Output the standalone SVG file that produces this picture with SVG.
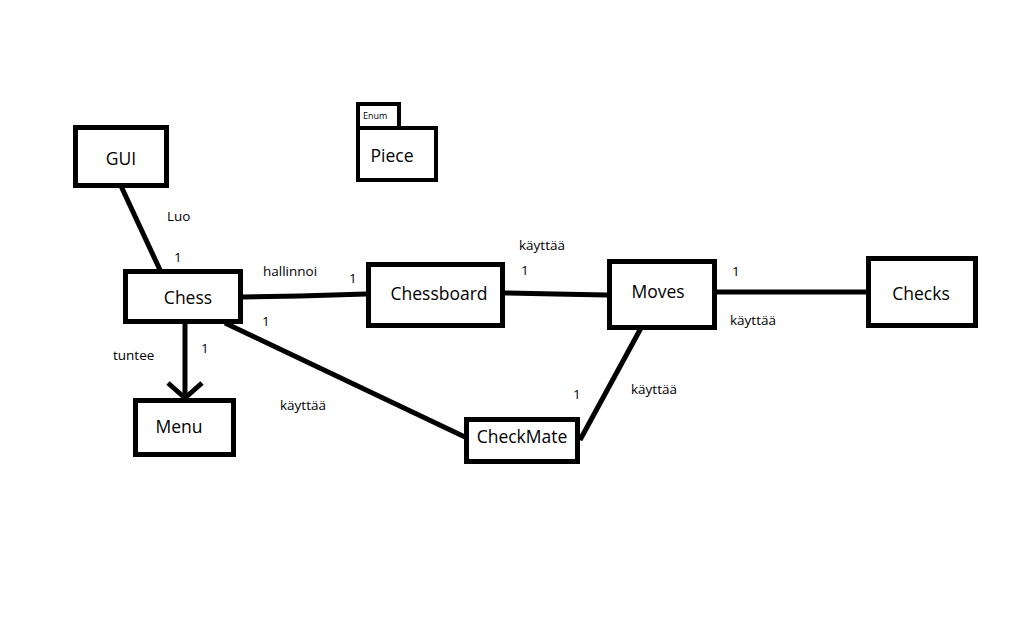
<svg xmlns="http://www.w3.org/2000/svg" width="1031" height="641" viewBox="0 0 1031 641">
<style>
.box{fill:#fff;stroke:#000;stroke-width:5}
.tab{fill:#fff;stroke:#000;stroke-width:4}
.conn{stroke:#000;stroke-width:5;fill:none;stroke-linecap:butt}
.name{font-family:"Open Sans","Noto Sans",sans-serif;font-size:17.5px;fill:#000;text-anchor:middle;dominant-baseline:central}
.lbl{font-family:"Open Sans","Noto Sans",sans-serif;font-size:13.5px;fill:#000;dominant-baseline:central}
</style>
<rect width="1031" height="641" fill="#fff"/>
<g id="connectors">
<line class="conn" x1="121" y1="186" x2="160" y2="270"/>
<polyline class="conn" points="243,297 300,296 366,294"/>
<polyline class="conn" points="505,293 555,294 607,295"/>
<line class="conn" x1="717" y1="292" x2="866" y2="292"/>
<line class="conn" x1="641" y1="328" x2="580" y2="440"/>
<line class="conn" x1="225" y1="323" x2="465" y2="437"/>
<line class="conn" x1="185" y1="324" x2="185" y2="397"/>
<polyline class="conn" points="168,383 185,398 202,383"/>
</g>
<g id="GUI"><rect class="box" x="75.5" y="127.5" width="91" height="58"/><text class="name" x="121" y="158">GUI</text></g>
<g id="Piece"><rect class="tab" x="358" y="104" width="41" height="24"/><text x="363" y="115" font-family="Open Sans,sans-serif" font-size="9" dominant-baseline="central">Enum</text><rect class="tab" x="358" y="128" width="78" height="52"/><text class="name" x="392" y="155">Piece</text></g>
<g id="Chess"><rect class="box" x="125.5" y="271.5" width="115" height="50"/><text class="name" x="188" y="297">Chess</text></g>
<g id="Chessboard"><rect class="box" x="368.5" y="264.5" width="134" height="61"/><text class="name" x="439" y="293">Chessboard</text></g>
<g id="Moves"><rect class="box" x="609.5" y="261.5" width="105" height="66"/><text class="name" x="658" y="291">Moves</text></g>
<g id="Checks"><rect class="box" x="868.5" y="258.5" width="107" height="67"/><text class="name" x="921" y="293">Checks</text></g>
<g id="Menu"><rect class="box" x="135.5" y="400.5" width="98" height="54"/><text class="name" x="179" y="426">Menu</text></g>
<g id="CheckMate"><rect class="box" x="466.5" y="419.5" width="111" height="42"/><text class="name" x="522" y="436">CheckMate</text></g>
<g id="labels">
<text class="lbl" x="167" y="216">Luo</text>
<text class="lbl" x="174" y="257">1</text>
<text class="lbl" x="263" y="271">hallinnoi</text>
<text class="lbl" x="349" y="278">1</text>
<text class="lbl" x="262" y="321">1</text>
<text class="lbl" x="113" y="355">tuntee</text>
<text class="lbl" x="201" y="348">1</text>
<text class="lbl" x="280" y="405">käyttää</text>
<text class="lbl" x="573" y="394">1</text>
<text class="lbl" x="519" y="245">käyttää</text>
<text class="lbl" x="521" y="270">1</text>
<text class="lbl" x="732" y="271">1</text>
<text class="lbl" x="730" y="320">käyttää</text>
<text class="lbl" x="631" y="389">käyttää</text>
</g>
</svg>
